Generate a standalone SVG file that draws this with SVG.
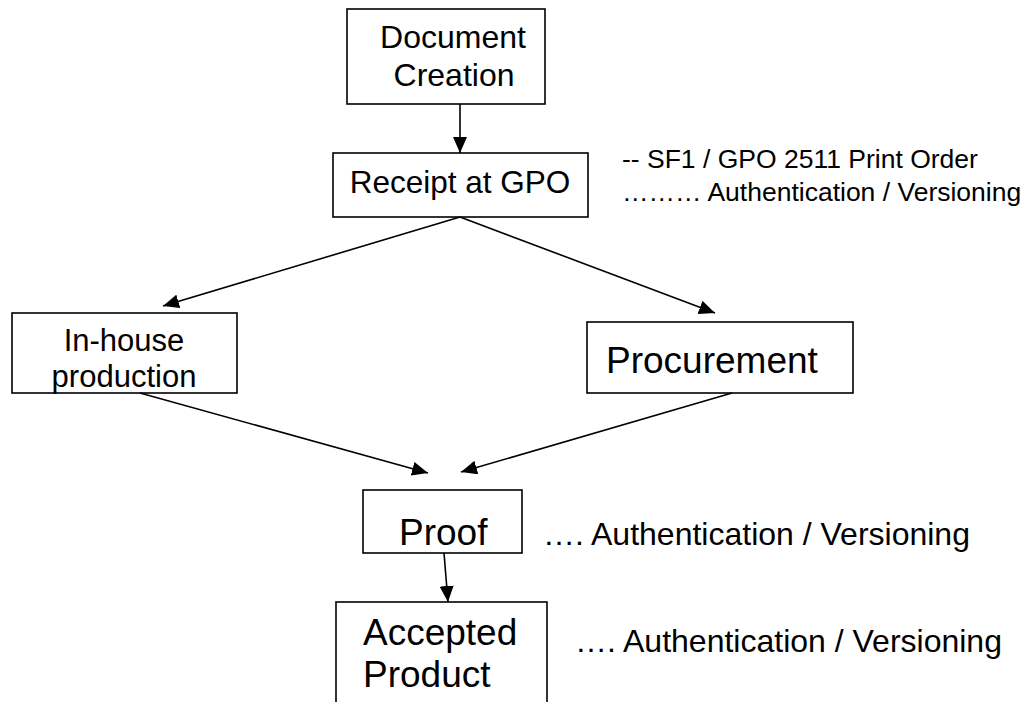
<svg xmlns="http://www.w3.org/2000/svg" width="1026" height="702" viewBox="0 0 1026 702">
<style>
.box{fill:#fff;stroke:#000;stroke-width:1.6}
.t{font-family:"Liberation Sans",Arial,sans-serif;fill:#000}
.conn line{stroke:#000;stroke-width:1.6}
</style>
<defs>
<marker id="ah" markerUnits="userSpaceOnUse" markerWidth="18" markerHeight="14" refX="16" refY="7" orient="auto">
<path d="M0,0 L16,7 L0,14 z" fill="#000"/>
</marker>
</defs>
<rect width="1026" height="702" fill="#fff"/>
<g id="doc-creation">
<rect class="box" x="347" y="9" width="198" height="95"/>
<text class="t" x="453" y="48" font-size="32" text-anchor="middle">Document</text>
<text class="t" x="454" y="86" font-size="32" text-anchor="middle">Creation</text>
</g>
<g id="receipt">
<rect class="box" x="333" y="153" width="255" height="64"/>
<text class="t" x="460" y="193" font-size="31.5" text-anchor="middle">Receipt at GPO</text>
</g>
<g id="receipt-note">
<text class="t" x="622" y="168" font-size="26.5">-- SF1 / GPO 2511 Print Order</text>
<text class="t" x="622" y="201" font-size="26.5">……… Authentication / Versioning</text>
</g>
<g id="inhouse">
<rect class="box" x="12" y="313" width="225" height="80"/>
<text class="t" x="124" y="351" font-size="31" text-anchor="middle">In-house</text>
<text class="t" x="124" y="387" font-size="31" text-anchor="middle">production</text>
</g>
<g id="procurement">
<rect class="box" x="587" y="322" width="266" height="71"/>
<text class="t" x="606" y="373" font-size="37">Procurement</text>
</g>
<g id="proof">
<rect class="box" x="363" y="490" width="159" height="63"/>
<text class="t" x="399" y="545" font-size="37">Proof</text>
</g>
<g id="proof-note">
<text class="t" x="543" y="545" font-size="32">…. Authentication / Versioning</text>
</g>
<g id="accepted">
<rect class="box" x="336" y="602" width="211" height="110"/>
<text class="t" x="363" y="645" font-size="37">Accepted</text>
<text class="t" x="363" y="687" font-size="37">Product</text>
</g>
<g id="accepted-note">
<text class="t" x="575" y="652" font-size="32">…. Authentication / Versioning</text>
</g>
<g class="conn" id="connectors">
<line x1="460" y1="104" x2="460" y2="153" marker-end="url(#ah)"/>
<line x1="460" y1="217" x2="163" y2="306" marker-end="url(#ah)"/>
<line x1="460" y1="217" x2="715" y2="313" marker-end="url(#ah)"/>
<line x1="140" y1="393" x2="428" y2="473" marker-end="url(#ah)"/>
<line x1="732" y1="393" x2="461" y2="472" marker-end="url(#ah)"/>
<line x1="444" y1="553" x2="448" y2="602" marker-end="url(#ah)"/>
</g>
</svg>
